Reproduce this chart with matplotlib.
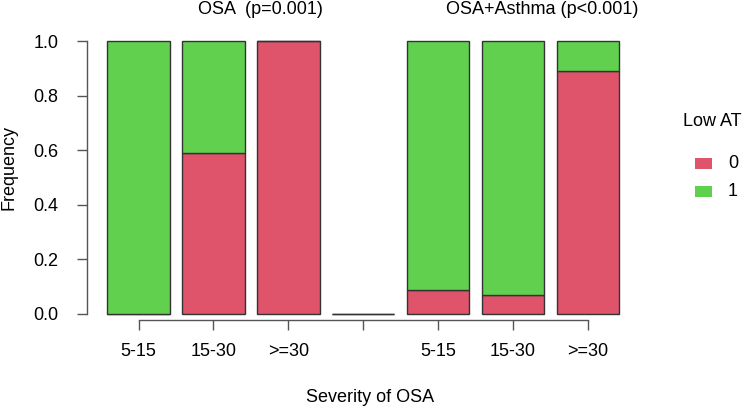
import matplotlib
matplotlib.use('Agg')
import matplotlib.pyplot as plt
from matplotlib.patches import Rectangle
import numpy as np

plt.rcParams['font.family'] = ['Liberation Sans', 'DejaVu Sans']

# share of "Low AT = 0" per severity group (the 4th slot is the empty spacer)
severity = ['5-15', '15-30', '>=30', '', '5-15', '15-30', '>=30']
share_0 = [0.0, 0.59, 1.0, 0.0, 0.088, 0.068, 0.89]
share_1 = [1.0, 0.41, 0.0, 0.0, 0.912, 0.932, 0.11]
group_titles = ['OSA  (p=0.001)', 'OSA+Asthma (p<0.001)']
legend_labels = ['0', '1']

RED = '#DF536B'
GREEN = '#61D04F'
EDGE = '#333333'
AXIS = '#555555'
FS = 13

W, H = 749, 409
fig = plt.figure(figsize=(W / 100, H / 100), dpi=100)

# axes box in pixels: y axis at x=87, y=0 at 314, y=1 at 41
x0_px, x_step = 138.5, 74.9
left_px, right_px = 87, 650
ax = fig.add_axes([left_px / W, (H - 314) / H,
                   (right_px - left_px) / W, 273 / H])

pos = np.arange(len(severity))
width = 1 / 1.2
ax.bar(pos, share_0, width, color=RED, edgecolor=EDGE, linewidth=1,
       clip_on=False)
ax.bar(pos, share_1, width, bottom=share_0, color=GREEN, edgecolor=EDGE,
       linewidth=1, clip_on=False)

ax.set_xlim((left_px - x0_px) / x_step, (right_px - x0_px) / x_step)
ax.set_ylim(0, 1)

for s in ['top', 'right']:
    ax.spines[s].set_visible(False)
ax.spines['left'].set_bounds(0, 1)
ax.spines['bottom'].set_bounds(0, len(severity) - 1)
ax.spines['bottom'].set_position(('outward', 4))
for s in ['left', 'bottom']:
    ax.spines[s].set_color(AXIS)
    ax.spines[s].set_linewidth(1)

ax.set_xticks(pos)
ax.set_xticklabels(severity)
ax.set_yticks(np.arange(0, 1.01, 0.2))
ax.set_yticklabels(['%.1f' % v for v in np.arange(0, 1.01, 0.2)])
ax.tick_params(axis='x', length=7.2, width=1, color=AXIS, pad=10,
               labelsize=FS)
ax.tick_params(axis='y', length=7.5, width=1, color=AXIS, pad=13,
               labelsize=FS)

# titles and axis labels
fig.text(260 / W, 1 - 9 / H, group_titles[0], ha='center', va='center',
         fontsize=FS)
fig.text(542 / W, 1 - 9 / H, group_titles[1], ha='center', va='center',
         fontsize=FS)
fig.text(370 / W, 1 - 398 / H, 'Severity of OSA', ha='center', va='center',
         fontsize=FS)
fig.text(9 / W, 1 - 167 / H, 'Frequency', ha='center', va='center',
         rotation=90, fontsize=FS)

# legend drawn by hand to match the layout
fig.text(683 / W, 1 - 122 / H, 'Low AT', ha='left', va='center', fontsize=FS)
for lab, col, yc in zip(legend_labels, [RED, GREEN], [163.5, 191]):
    fig.patches.append(Rectangle((695 / W, 1 - (yc + 5.5) / H), 17 / W,
                                 11 / H, transform=fig.transFigure,
                                 facecolor=col, edgecolor='none'))
    fig.text(728 / W, 1 - yc / H, lab, ha='left', va='center', fontsize=FS)

fig.savefig('out.png', dpi=100)
